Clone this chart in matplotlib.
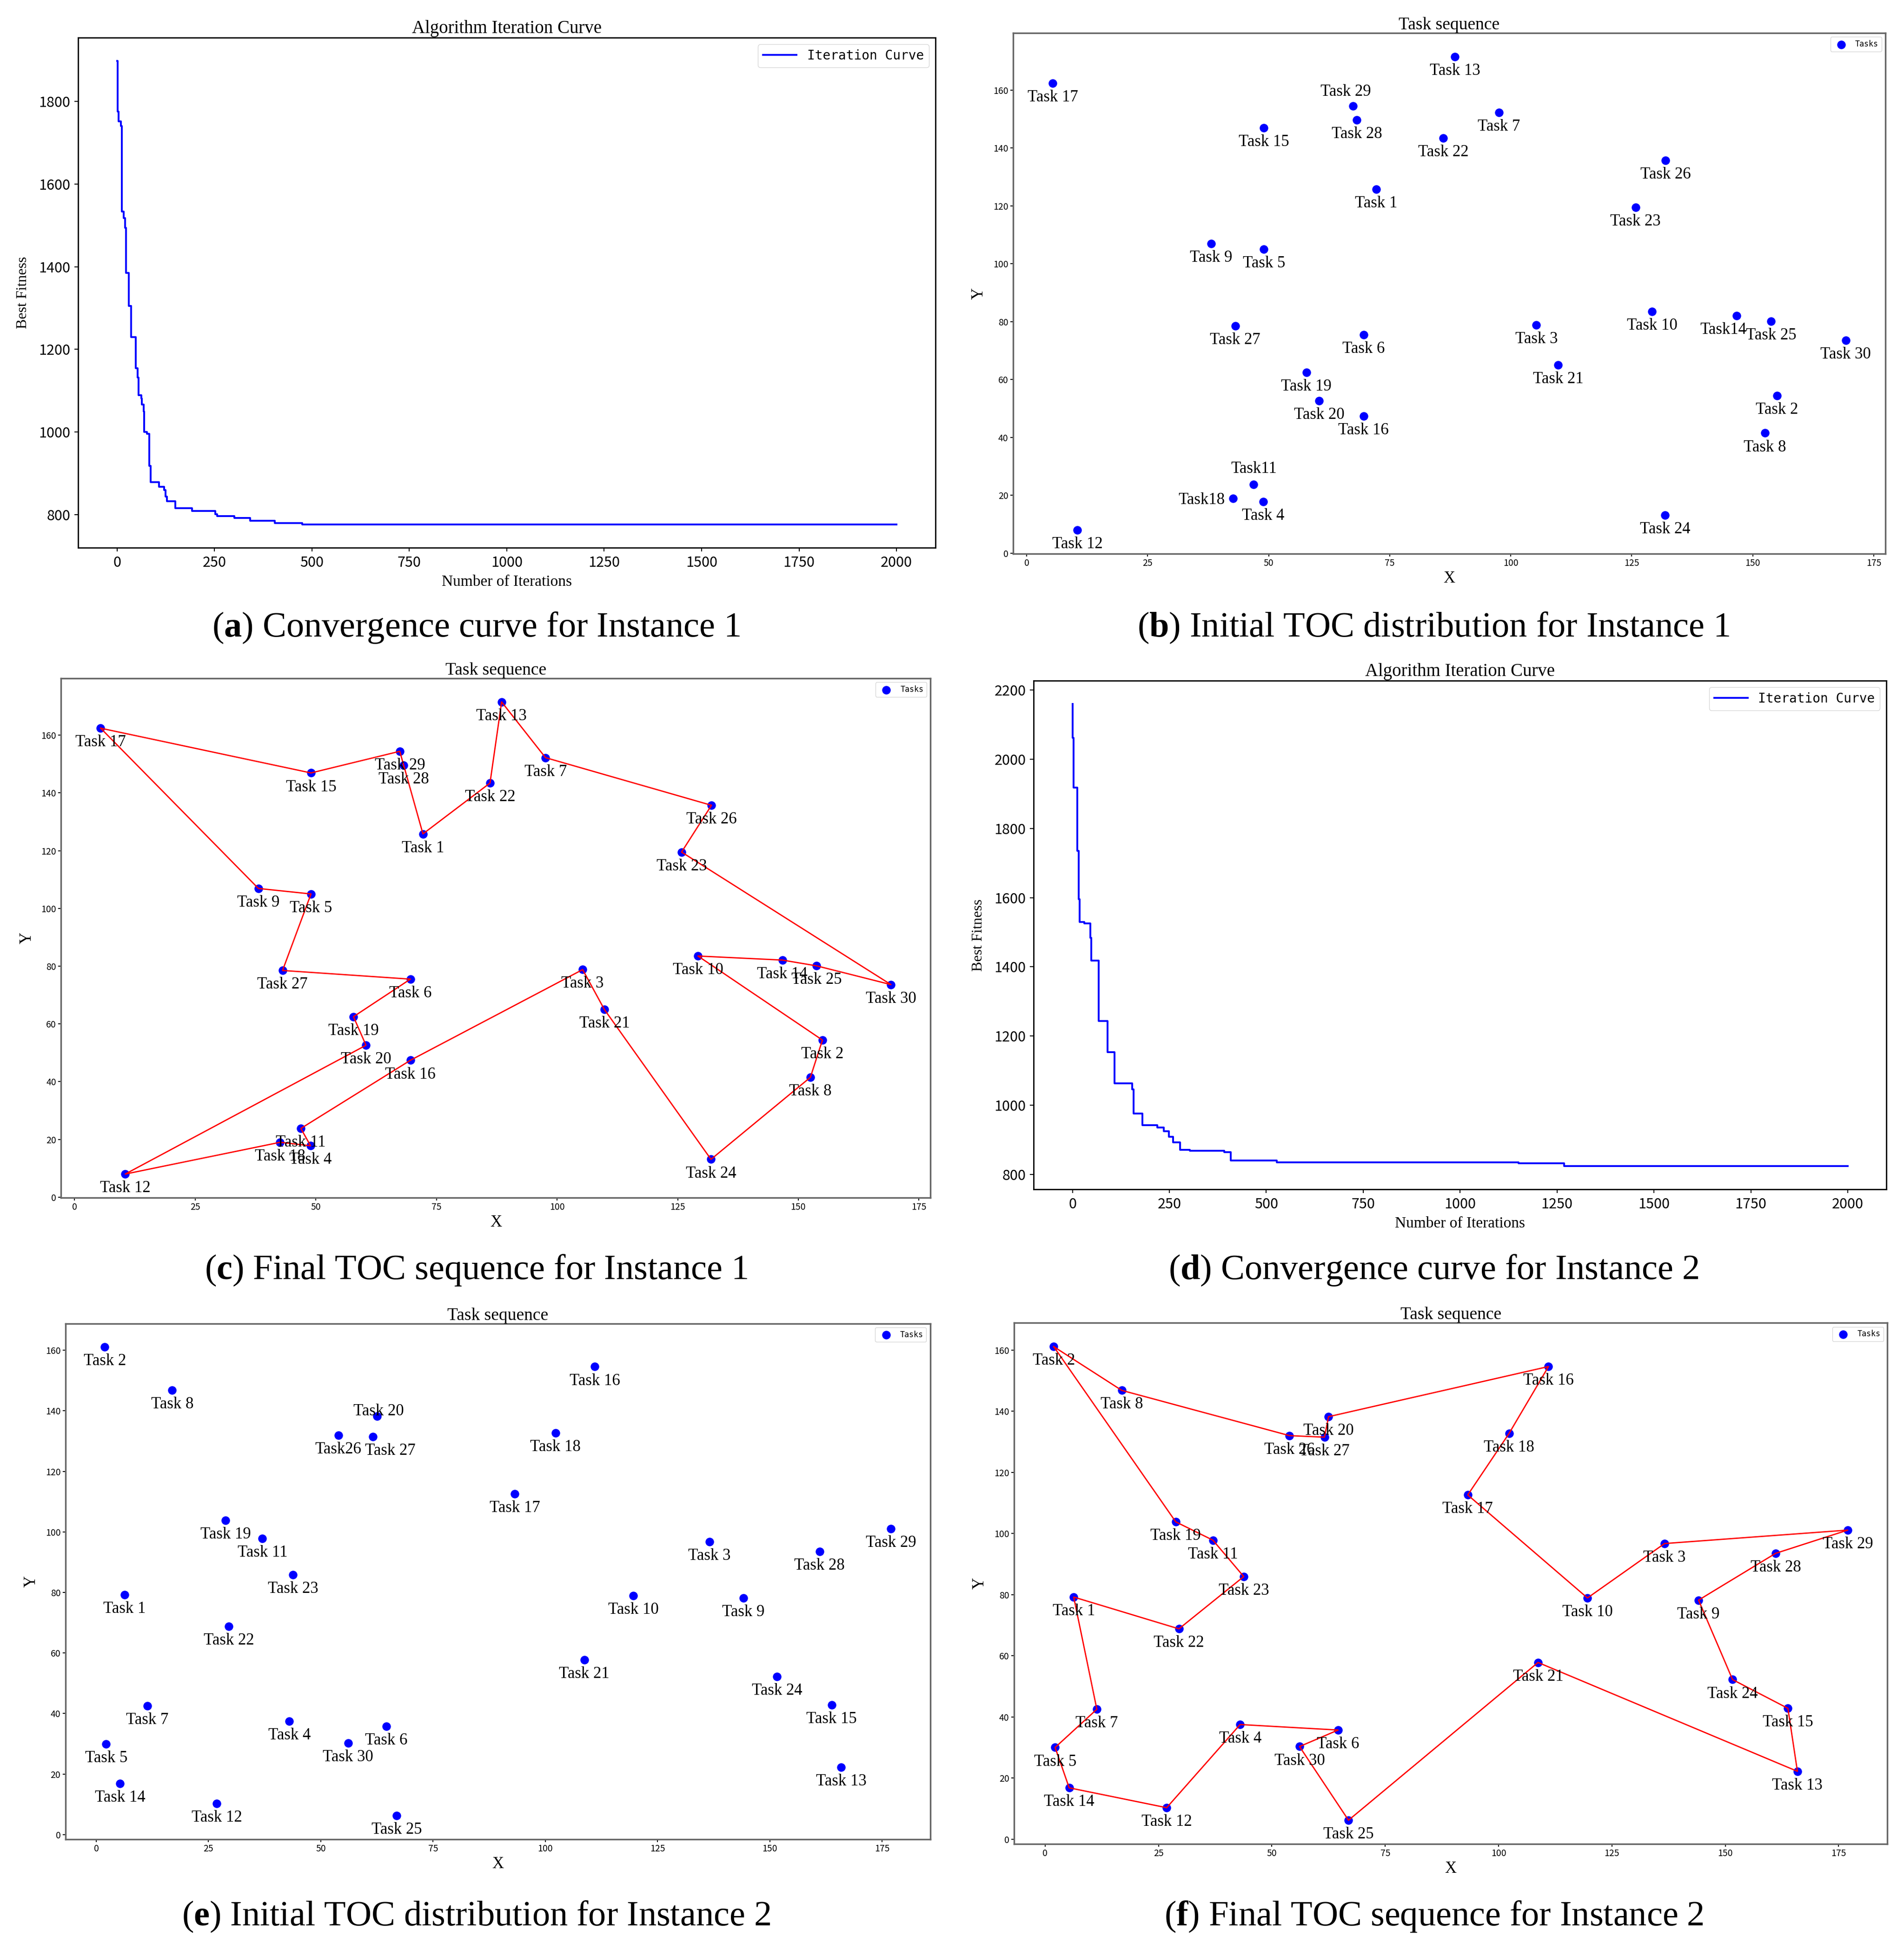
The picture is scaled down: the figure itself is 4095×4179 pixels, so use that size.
import matplotlib
matplotlib.use('Agg')
import matplotlib.pyplot as plt

# ---- dados: instância 1 (coordenadas das tarefas 1..30)
task_ids = list(range(1, 31))
x_inst1 = [72.2, 155.0, 105.3, 48.9, 49.0, 69.6, 97.6, 152.5, 38.1, 129.2,
           46.9, 10.5, 88.5, 146.7, 49.0, 69.6, 5.4, 42.6, 57.8, 60.4,
           109.8, 86.1, 125.8, 131.9, 153.8, 132.0, 43.1, 68.2, 67.4, 169.2]
y_inst1 = [125.8, 54.4, 78.8, 17.8, 105.0, 75.5, 152.2, 41.5, 106.9, 83.5,
           23.8, 8.0, 171.5, 82.1, 146.9, 47.4, 162.4, 19.0, 62.5, 52.6,
           65.0, 143.4, 119.5, 13.1, 80.1, 135.7, 78.5, 149.6, 154.4, 73.6]
tour_inst1 = [17, 15, 29, 28, 1, 22, 13, 7, 26, 23, 30, 25, 14, 10, 2, 8,
              24, 21, 3, 16, 11, 4, 18, 12, 20, 19, 6, 27, 5, 9, 17]

# ---- dados: instância 2
x_inst2 = [6.3, 1.9, 136.6, 43.0, 2.2, 64.6, 11.4, 16.9, 144.1, 119.6,
           37.0, 26.8, 165.9, 5.3, 163.8, 111.0, 93.2, 102.3, 28.8, 62.5,
           108.7, 29.5, 43.8, 151.6, 66.9, 53.9, 61.6, 161.1, 177.0, 56.1]
y_inst2 = [79.2, 161.1, 96.7, 37.5, 30.0, 35.7, 42.5, 146.8, 78.2, 78.9,
           97.8, 10.3, 22.2, 16.8, 42.8, 154.6, 112.6, 132.7, 103.8, 138.2,
           57.8, 68.8, 85.9, 52.2, 6.2, 132.0, 131.5, 93.5, 101.1, 30.3]
tour_inst2 = [2, 8, 26, 27, 20, 16, 18, 17, 10, 3, 29, 28, 9, 24, 15, 13,
              21, 25, 30, 6, 4, 12, 14, 5, 7, 1, 22, 23, 11, 19, 2]

# ---- curvas de convergência (iteração onde o melhor valor muda)
iter_inst1 = [0, 2, 4, 10, 12, 17, 21, 23, 30, 36, 48, 53, 55, 62, 64, 68,
              70, 77, 83, 86, 108, 121, 124, 128, 149, 193, 252, 257, 301,
              341, 405, 475, 2000]
fit_inst1 = [1898, 1775, 1752, 1740, 1533, 1518, 1494, 1385, 1305, 1230,
             1154, 1132, 1089, 1081, 1066, 1050, 1000, 996, 918, 879, 867,
             859, 844, 832, 816, 809, 801, 797, 792, 785, 780, 776, 776]
iter_inst2 = [0, 1, 3, 12, 13, 16, 19, 30, 46, 48, 68, 91, 109, 154, 158,
              181, 219, 236, 249, 260, 278, 303, 391, 408, 527, 1151, 1268,
              2000]
fit_inst2 = [2160, 2061, 1918, 1861, 1735, 1595, 1530, 1525, 1484, 1418,
             1244, 1153, 1063, 1046, 976, 942, 936, 925, 909, 893, 871, 868,
             865, 840, 835, 832, 824, 824]

# rótulos editados à mão no original
names_b = {11: 'Task11', 14: 'Task14', 18: 'Task18'}
names_e = {26: 'Task26'}
offs_b = {11: (0, 24, 'center'), 18: (-12, -3, 'right'),
          29: (-11, 22, 'center'), 14: (-21, -22, 'center')}
offs_e = {20: (3, 8, 'center'), 27: (27, -22, 'center')}

# ---- estilo
plt.rcParams['font.family'] = ['Liberation Sans Narrow', 'Noto Sans CJK SC', 'DejaVu Sans']
plt.rcParams['mathtext.fontset'] = 'custom'
plt.rcParams['mathtext.rm'] = 'Liberation Serif'
plt.rcParams['mathtext.bf'] = 'Liberation Serif:bold'
SERIF = 'Liberation Serif'


def convergence(ax, iters, fits):
    ax.plot(iters, fits, color='blue', lw=2.8, drawstyle='steps-post',
            label='Iteration Curve')
    ax.set_title('Algorithm Iteration Curve', family=SERIF, fontsize=28, pad=7)
    ax.set_xlabel('Number of Iterations', family=SERIF, fontsize=24, labelpad=8)
    ax.set_ylabel('Best Fitness', family=SERIF, fontsize=23, labelpad=14)
    ax.tick_params(labelsize=22, length=6, width=1.5, pad=6)
    for s in ax.spines.values():
        s.set_color('black')
        s.set_linewidth(2)
    ax.legend(loc='upper right', handlelength=2.6,
              prop={'family': 'DejaVu Sans Mono', 'size': 20})


def tasks(ax, xs, ys, tour=None, names=None, offs=None):
    names = names or {}
    offs = offs or {}
    ax.scatter(xs, ys, c='blue', s=150, label='Tasks', zorder=2)
    if tour is not None:
        ax.plot([xs[t - 1] for t in tour], [ys[t - 1] for t in tour],
                color='red', lw=2, zorder=3)
    for t, x, y in zip(task_ids, xs, ys):
        dx, dy, ha = offs.get(t, (0, -22, 'center'))
        ax.annotate(names.get(t, f'Task {t}'), (x, y), xytext=(dx, dy),
                    textcoords='offset points', ha=ha, va='center',
                    family=SERIF, fontsize=25, zorder=4)
    ax.set_title('Task sequence', family=SERIF, fontsize=27, pad=5)
    ax.set_xlabel('X', family=SERIF, fontsize=25, labelpad=4)
    ax.set_ylabel('Y', family=SERIF, fontsize=25, labelpad=10)
    ax.tick_params(labelsize=14, length=4, width=1.5)
    for s in ax.spines.values():
        s.set_color('#666666')
        s.set_linewidth(2.5)
    ax.legend(loc='upper right', prop={'family': 'DejaVu Sans Mono', 'size': 12})


fig = plt.figure(figsize=(40.95, 41.79), dpi=100)

ax_a = fig.add_axes([0.0410, 0.7181, 0.4503, 0.2625])
ax_b = fig.add_axes([0.5321, 0.7150, 0.4581, 0.2680])
ax_c = fig.add_axes([0.0321, 0.3836, 0.4566, 0.2673])
ax_d = fig.add_axes([0.5429, 0.3879, 0.4479, 0.2618])
ax_e = fig.add_axes([0.0344, 0.0534, 0.4542, 0.2654])
ax_f = fig.add_axes([0.5326, 0.0510, 0.4587, 0.2681])

convergence(ax_a, iter_inst1, fit_inst1)
tasks(ax_b, x_inst1, y_inst1, names=names_b, offs=offs_b)
tasks(ax_c, x_inst1, y_inst1, tour=tour_inst1)
convergence(ax_d, iter_inst2, fit_inst2)
tasks(ax_e, x_inst2, y_inst2, names=names_e, offs=offs_e)
tasks(ax_f, x_inst2, y_inst2, tour=tour_inst2)

# legendas das subfiguras
captions = [
    (0.250, 0.677, r'($\mathbf{a}$) Convergence curve for Instance 1'),
    (0.753, 0.677, r'($\mathbf{b}$) Initial TOC distribution for Instance 1'),
    (0.250, 0.3463, r'($\mathbf{c}$) Final TOC sequence for Instance 1'),
    (0.753, 0.3463, r'($\mathbf{d}$) Convergence curve for Instance 2'),
    (0.250, 0.0137, r'($\mathbf{e}$) Initial TOC distribution for Instance 2'),
    (0.753, 0.0137, r'($\mathbf{f}$) Final TOC sequence for Instance 2'),
]
for cx, cy, txt in captions:
    fig.text(cx, cy, txt, family=SERIF, fontsize=55, ha='center', va='center')

fig.savefig('out.png', dpi=100)
